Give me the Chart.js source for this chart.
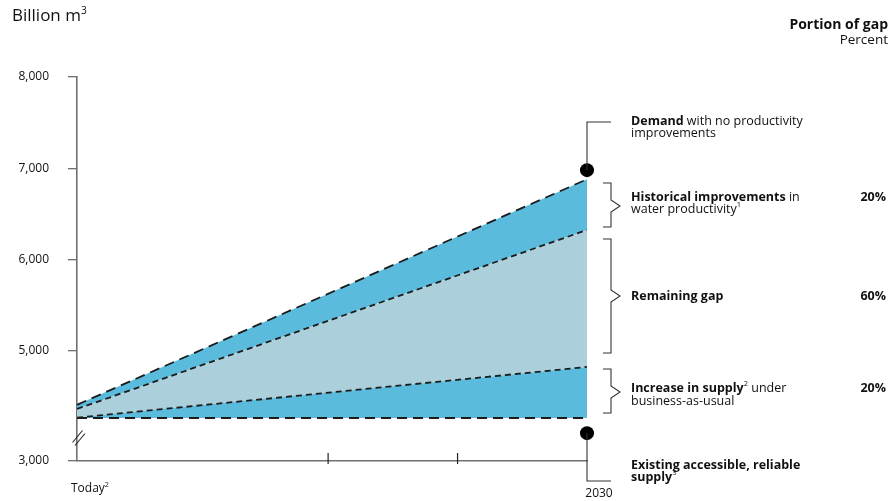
<!DOCTYPE html>
<html>
<head>
<meta charset="utf-8">
<script src="https://cdn.jsdelivr.net/npm/chart.js@4.4.1/dist/chart.umd.min.js"></script>
<style>
  html, body { margin: 0; padding: 0; background: #fff; }
  #wrap { width: 892px; height: 501px; }
</style>
</head>
<body>
<div id="wrap"><canvas id="chart" width="892" height="501"></canvas></div>
<script>
// Values (billion m3). The axis is broken below 5,000,
// so the bottom tick sits at the axis origin but is labelled 3,000.
const years = [2010.3, 2030];               // "Today" -> 2030
const existingSupply = [4266, 4266];
const supplyIncrease = [4270, 4825];
const historicalImprovements = [4365, 6325];
const demand = [4410, 6880];
const markerValues = [6980, 4100];          // dots at 2030
const minorTickYears = [2020, 2025];

const yTickValues = [3795, 5000, 6000, 7000, 8000];
const yTickLabels = ["3,000", "5,000", "6,000", "7,000", "8,000"];

const DARK_BLUE = "#5bbbdc";
const LIGHT_BLUE = "#abcfdb";
const AXIS_GREY = "#707070";
const FONT = "'Open Sans', 'DejaVu Sans', sans-serif";
const BODY = 12.5;

function toPoints(values) {
    return values.map((v, i) => ({ x: years[i], y: v }));
}

// draw text made of runs: {t, b (bold), s (superscript)}
function drawRuns(ctx, runs, x, y, size, align) {
    let total = 0;
    runs.forEach(r => {
        ctx.font = (r.b ? "bold " : "") + (r.s ? size * 0.6 : size) + "px " + FONT;
        r.w = ctx.measureText(r.t).width;
        total += r.w;
    });
    let cx = align === "right" ? x - total : x;
    runs.forEach(r => {
        ctx.font = (r.b ? "bold " : "") + (r.s ? size * 0.6 : size) + "px " + FONT;
        ctx.textAlign = "left";
        ctx.textBaseline = "middle";
        ctx.fillText(r.t, cx, r.s ? y - size * 0.3 : y);
        cx += r.w;
    });
}

function drawBrace(ctx, x, top, bottom, tipY) {
    ctx.beginPath();
    ctx.moveTo(x - 8, top);
    ctx.lineTo(x, top);
    ctx.lineTo(x, tipY - 6);
    ctx.lineTo(x + 9, tipY);
    ctx.lineTo(x, tipY + 6);
    ctx.lineTo(x, bottom);
    ctx.lineTo(x - 8, bottom);
    ctx.stroke();
}

const annotationsPlugin = {
    id: "annotations",
    afterDraw(chart) {
        const ctx = chart.ctx;
        const xs = chart.scales.x;
        const ys = chart.scales.y;
        const area = chart.chartArea;
        ctx.save();
        ctx.fillStyle = "#111";

        // unit title
        drawRuns(ctx, [{ t: "Billion m" }, { t: "3", s: true }], 12, 16, 17);

        // right column header
        drawRuns(ctx, [{ t: "Portion of gap", b: true }], 888, 25, 14, "right");
        drawRuns(ctx, [{ t: "Percent" }], 888, 40, 13.5, "right");

        // x labels
        drawRuns(ctx, [{ t: "Today" }, { t: "2", s: true }], 71, 489, 12);
        ctx.font = "12px " + FONT;
        ctx.textAlign = "center";
        ctx.textBaseline = "middle";
        ctx.fillText("2030", xs.getPixelForValue(2030) + 12, 494);

        // minor x ticks crossing the axis
        ctx.strokeStyle = "#222";
        ctx.lineWidth = 1.2;
        minorTickYears.forEach(yr => {
            const px = xs.getPixelForValue(yr);
            ctx.beginPath();
            ctx.moveTo(px, area.bottom - 8);
            ctx.lineTo(px, area.bottom + 3);
            ctx.stroke();
        });

        // axis break marks
        ctx.strokeStyle = "#222";
        ctx.lineWidth = 1.1;
        [[72.5, 442.5, 82.5, 430.5], [75, 445.5, 85, 433.5]].forEach(l => {
            ctx.beginPath();
            ctx.moveTo(l[0], l[1]);
            ctx.lineTo(l[2], l[3]);
            ctx.stroke();
        });

        // connectors from the dots
        const xEnd = xs.getPixelForValue(2030);
        const topDot = ys.getPixelForValue(markerValues[0]);
        const botDot = ys.getPixelForValue(markerValues[1]);
        ctx.strokeStyle = "#333";
        ctx.lineWidth = 1.1;
        ctx.beginPath();
        ctx.moveTo(xEnd, topDot);
        ctx.lineTo(xEnd, 122);
        ctx.lineTo(611, 122);
        ctx.stroke();
        ctx.beginPath();
        ctx.moveTo(xEnd, botDot);
        ctx.lineTo(xEnd, 481);
        ctx.lineTo(611, 481);
        ctx.stroke();

        // braces
        drawBrace(ctx, 611, 183, 227, 206);
        drawBrace(ctx, 611, 239, 353, 296);
        drawBrace(ctx, 611, 369, 413, 392);

        // segment labels
        const lx = 631;
        drawRuns(ctx, [{ t: "Demand", b: true }, { t: " with no productivity" }], lx, 121, BODY);
        drawRuns(ctx, [{ t: "improvements" }], lx, 133, BODY);
        drawRuns(ctx, [{ t: "Historical improvements", b: true }, { t: " in" }], lx, 197, BODY);
        drawRuns(ctx, [{ t: "water productivity" }, { t: "1", s: true }], lx, 209, BODY);
        drawRuns(ctx, [{ t: "Remaining gap", b: true }], lx, 296, BODY);
        drawRuns(ctx, [{ t: "Increase in supply", b: true }, { t: "2", s: true }, { t: " under" }], lx, 388, BODY);
        drawRuns(ctx, [{ t: "business-as-usual" }], lx, 401, BODY);
        drawRuns(ctx, [{ t: "Existing accessible, reliable", b: true }], lx, 465, BODY);
        drawRuns(ctx, [{ t: "supply", b: true }, { t: "3", s: true }], lx, 477, BODY);

        // portion of gap
        drawRuns(ctx, [{ t: "20%", b: true }], 886, 197, BODY, "right");
        drawRuns(ctx, [{ t: "60%", b: true }], 886, 296, BODY, "right");
        drawRuns(ctx, [{ t: "20%", b: true }], 886, 388, BODY, "right");

        ctx.restore();
    }
};

const lineStyle = {
    type: "line",
    tension: 0,
    pointRadius: 0,
    borderColor: "#1c1c1c",
    borderWidth: 1.8,
    order: 1,
};

new Chart(document.getElementById("chart"), {
    data: {
        datasets: [
            { ...lineStyle, label: "Existing supply", data: toPoints(existingSupply), borderDash: [10, 6], fill: false },
            { ...lineStyle, label: "Increase in supply", data: toPoints(supplyIncrease), borderDash: [6, 4], fill: "-1", backgroundColor: DARK_BLUE },
            { ...lineStyle, label: "Historical improvements", data: toPoints(historicalImprovements), borderDash: [6, 4], fill: "-1", backgroundColor: LIGHT_BLUE },
            { ...lineStyle, label: "Demand", data: toPoints(demand), borderDash: [10, 6], fill: "-1", backgroundColor: DARK_BLUE },
            {
                type: "scatter",
                label: "Markers",
                data: markerValues.map(v => ({ x: 2030, y: v })),
                pointRadius: 7,
                pointBackgroundColor: "#000",
                pointBorderWidth: 0,
                clip: false,
                order: 0,
            },
        ],
    },
    options: {
        responsive: false,
        animation: false,
        layout: { padding: { top: 77, right: 305, left: 0, bottom: 0 } },
        plugins: { legend: { display: false }, tooltip: { enabled: false } },
        scales: {
            x: {
                type: "linear",
                min: years[0],
                max: 2030,
                ticks: { display: false },
                grid: { display: false },
                border: { color: AXIS_GREY, width: 1.6 },
                afterFit: scale => { scale.height = 40; },
            },
            y: {
                type: "linear",
                min: 3795,
                max: 8000,
                afterBuildTicks: scale => { scale.ticks = yTickValues.map(v => ({ value: v })); },
                afterFit: scale => { scale.width = 77; },
                ticks: {
                    padding: 19,
                    color: "#111",
                    font: { family: FONT, size: 12 },
                    callback: value => yTickLabels[yTickValues.indexOf(value)],
                },
                grid: { drawOnChartArea: false, drawTicks: true, tickLength: 9, color: AXIS_GREY, lineWidth: 1.3 },
                border: { color: AXIS_GREY, width: 1.6 },
            },
        },
    },
    plugins: [annotationsPlugin],
});
</script>
</body>
</html>
